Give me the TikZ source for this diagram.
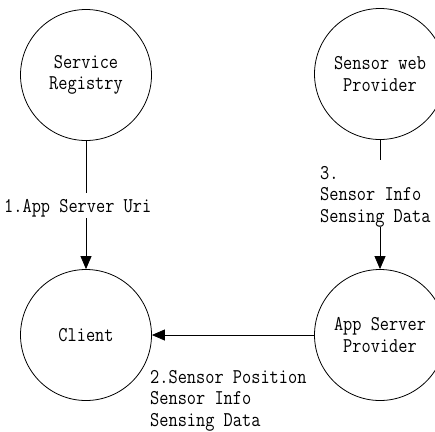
\documentclass[tikz,border=0pt]{standalone}
\usepackage{fontspec}
\setmainfont[FakeStretch=0.85]{Latin Modern Mono}
\usetikzlibrary{arrows.meta}
\begin{document}
\begin{tikzpicture}[x=1pt,y=-1pt,
  proc/.style={draw, circle, minimum size=131pt, inner sep=0pt, line width=0.8pt, align=center},
  lbl/.style={align=left, inner sep=0pt, anchor=base west},
  wire/.style={line width=0.8pt},
  flow/.style={line width=0.8pt, -{Triangle[length=13pt,width=11pt]}},
  font=\fontsize{21}{21.5}\selectfont]
\useasboundingbox (0,0) rectangle (435,431);
\clip (0,0) rectangle (435,431);
\fill[white] (0,0) rectangle (435,431);

% processes
\node[proc] (sr)  at (86,75)   {Service\\Registry};
\node[proc] (swp) at (380,74)  {Sensor web\\Provider};
\node[proc] (cl)  at (86,335)  {Client};
\node[proc] (asp) at (380,335) {App Server\\Provider};

% flow labels (anchored at the baseline of their last line)
\node[lbl] (l1) at (4,212)   {1.App Server Uri};
\node[lbl] (l3) at (320,222) {3.\\Sensor Info\\Sensing Data};
\node[lbl] (l2) at (150,426) {2.Sensor Position\\Sensor Info\\Sensing Data};

% break points of the vertical flows around their labels
\coordinate (b1) at (86,193);
\coordinate (b2) at (86,218);
\coordinate (b3) at (380,160);
\coordinate (b4) at (380,227);

% flows
\draw[wire] (sr) -- (b1);
\draw[flow] (b2) -- (cl);
\draw[wire] (swp) -- (b3);
\draw[flow] (b4) -- (asp);
\draw[flow] (asp) -- (cl);
\end{tikzpicture}
\end{document}
